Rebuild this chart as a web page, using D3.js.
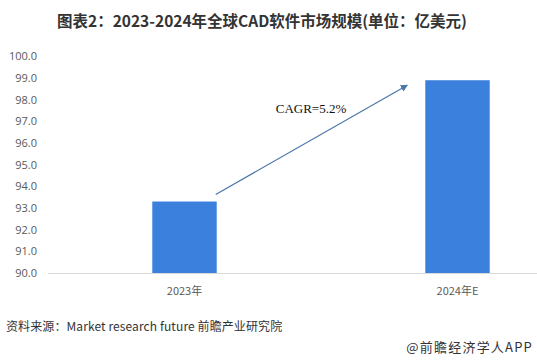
<!DOCTYPE html>
<html lang="zh">
<head>
<meta charset="UTF-8">
<script src="https://d3js.org/d3.v7.min.js"></script>
<style>
  body { margin: 0; background: #fff; }
  svg { display: block; }
</style>
</head>
<body>
<div id="chart"></div>
<script>
// Data
const categories = ["2023年", "2024年E"];
const values = [93.3, 98.9];
const yTicks = [90, 91, 92, 93, 94, 95, 96, 97, 98, 99, 100];
const titleText = "图表2：2023-2024年全球CAD软件市场规模(单位：亿美元)";
const cagrText = "CAGR=5.2%";
const sourceText = "资料来源：Market research future 前瞻产业研究院";
const brandText = "@前瞻经济学人APP";

const width = 537, height = 362;
const svg = d3.select("#chart").append("svg")
    .attr("width", width).attr("height", height);

const x = d3.scaleBand().domain(categories).range([48, 594]);
const y = d3.scaleLinear().domain([90, 100]).range([273, 56.4]);
const barW = x.bandwidth() * 0.236;

// Title
svg.append("text")
    .attr("x", 262).attr("y", 27)
    .attr("text-anchor", "middle")
    .attr("font-family", "'Noto Sans CJK SC', sans-serif")
    .attr("font-weight", "bold")
    .attr("font-size", 15.5)
    .attr("fill", "#333")
    .text(titleText);

// Y tick labels
svg.selectAll(".ytick")
    .data(yTicks)
    .enter().append("text")
    .attr("x", 37).attr("y", d => y(d))
    .attr("dy", "0.35em")
    .attr("text-anchor", "end")
    .attr("font-family", "'Open Sans', 'Noto Sans', sans-serif")
    .attr("font-size", 11)
    .attr("fill", "#595959")
    .text(d => d.toFixed(1));

// Bars
svg.selectAll(".bar")
    .data(values)
    .enter().append("rect")
    .attr("x", (d, i) => x(categories[i]) + x.bandwidth() / 2 - barW / 2)
    .attr("y", d => y(d))
    .attr("width", barW)
    .attr("height", d => y(90) - y(d))
    .attr("fill", "#3a80dc");

// Baseline
svg.append("line")
    .attr("x1", 48).attr("x2", width)
    .attr("y1", y(90) + 0.5).attr("y2", y(90) + 0.5)
    .attr("stroke", "#d9d9d9").attr("stroke-width", 1);

// Category labels
svg.selectAll(".xlab")
    .data(categories)
    .enter().append("text")
    .attr("x", d => x(d) + x.bandwidth() / 2)
    .attr("y", 295)
    .attr("text-anchor", "middle")
    .attr("font-family", "'Noto Sans CJK SC', sans-serif")
    .attr("font-size", 11)
    .attr("fill", "#595959")
    .text(d => d);

// CAGR arrow
const defs = svg.append("defs");
defs.append("marker")
    .attr("id", "arrow")
    .attr("viewBox", "0 0 10 10")
    .attr("refX", 9).attr("refY", 5)
    .attr("markerWidth", 6).attr("markerHeight", 6)
    .attr("orient", "auto")
    .append("path")
    .attr("d", "M0,0L10,5L0,10Z")
    .attr("fill", "#4a76a8");

const x0 = x(categories[0]) + x.bandwidth() / 2 + barW / 2 - 1;
const x1 = x(categories[1]) + x.bandwidth() / 2 - barW / 2 - 18;
svg.append("line")
    .attr("x1", x0).attr("y1", y(values[0]) - 7)
    .attr("x2", x1).attr("y2", y(values[1]) + 5)
    .attr("stroke", "#4a76a8").attr("stroke-width", 1.2)
    .attr("marker-end", "url(#arrow)");

svg.append("text")
    .attr("x", 311).attr("y", 113)
    .attr("text-anchor", "middle")
    .attr("font-family", "'Liberation Serif', 'DejaVu Serif', serif")
    .attr("font-size", 13)
    .attr("fill", "#111")
    .text(cagrText);

// Source & brand
svg.append("text")
    .attr("x", 6).attr("y", 331)
    .attr("font-family", "'Noto Sans CJK SC', sans-serif")
    .attr("font-size", 12)
    .attr("letter-spacing", 0.1)
    .attr("fill", "#333")
    .text(sourceText);

svg.append("text")
    .attr("x", 533).attr("y", 352)
    .attr("text-anchor", "end")
    .attr("font-family", "'Noto Sans CJK SC', sans-serif")
    .attr("font-size", 13)
    .attr("letter-spacing", 1.2)
    .attr("fill", "#333")
    .text(brandText);
</script>
</body>
</html>
